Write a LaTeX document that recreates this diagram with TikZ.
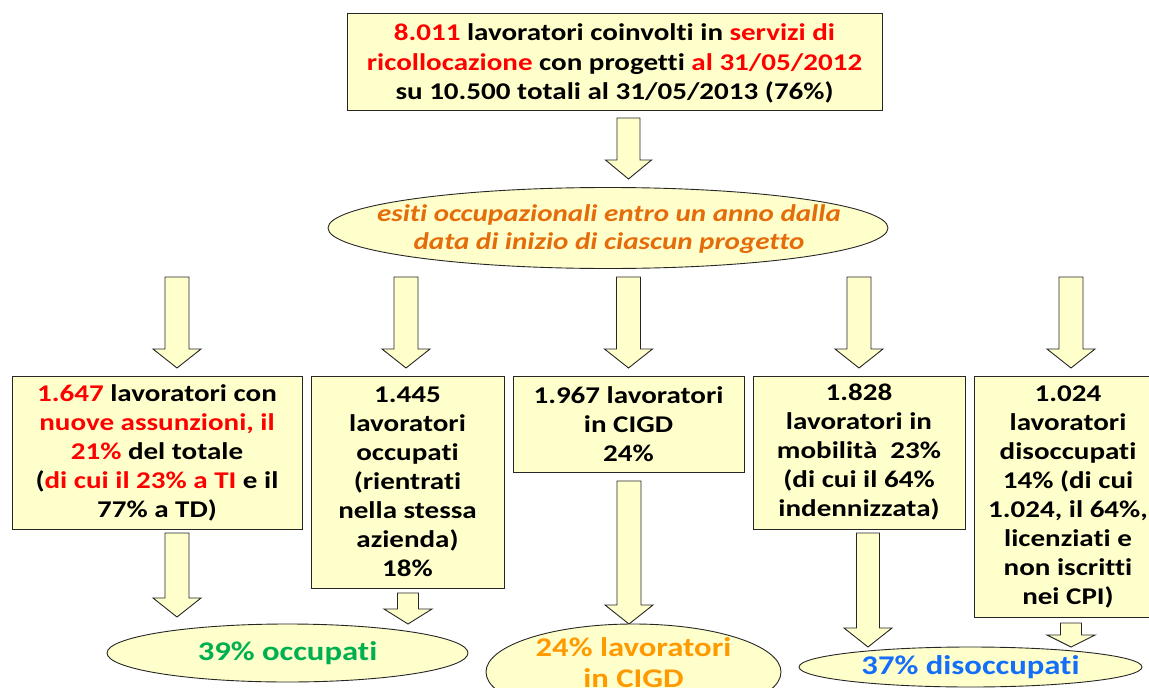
\documentclass[tikz,border=0pt]{standalone}
\usepackage{fontspec}
\setmainfont{Carlito}[FakeStretch=1.21, Ligatures=CommonOff]
\usetikzlibrary{shapes.geometric}
\definecolor{boxfill}{RGB}{255,255,204}
\definecolor{hired}{RGB}{255,0,0}
\definecolor{esorange}{RGB}{228,108,10}
\definecolor{cigorange}{RGB}{255,153,0}
\definecolor{occgreen}{RGB}{0,176,80}
\definecolor{disblue}{RGB}{20,110,250}
\newcommand\R[1]{\textcolor{hired}{#1}}
\newcommand\blockarr[6]{%
  \draw[barrow] ({#1-#5},#2) -- ({#1+#5},#2) -- ({#1+#5},#3) -- ({#1+#6},#3)
    -- (#1,#4) -- ({#1-#6},#3) -- ({#1-#5},#3) -- cycle;}
\tikzset{
  txt/.style={font=\fontsize{24}{29}\selectfont\bfseries, align=center, inner sep=0pt},
  bigtxt/.style={txt, font=\fontsize{27}{32}\selectfont\bfseries},
  box/.style={txt, draw=black!85, line width=0.9pt, fill=boxfill, rectangle},
  ell/.style={draw=black!85, line width=0.9pt, fill=boxfill, ellipse, inner sep=0pt},
  barrow/.style={draw=black!85, line width=0.9pt, fill=boxfill, line join=miter},
}
\begin{document}
\begin{tikzpicture}[x=1pt,y=-1pt]
\useasboundingbox (0,0) rectangle (1149,688);
\clip (0,0) rectangle (1149,688);
% top box
\node[box, minimum width=535pt, minimum height=97pt] (top) at (614.5,61.5) {};
\node[txt, font=\fontsize{24}{29.5}\selectfont\bfseries] (toptxt) at (614.5,63.5)
  {\R{8.011} lavoratori coinvolti in \R{servizi di}\\\R{ricollocazione} con progetti \R{al 31/05/2012}\\su 10.500 totali al 31/05/2013 (76\%)};
\blockarr{628.5}{118}{160}{179}{11.5}{23}
% ellipse
\node[ell, minimum width=560pt, minimum height=81pt] (esiti) at (608,228) {};
\node[txt, font=\fontsize{24}{28}\selectfont\bfseries\itshape, text=esorange] (esititxt) at (609,229.5)
  {esiti occupazionali entro un anno dalla\\data di inizio di ciascun progetto};
% arrows to boxes
\blockarr{177}{277}{349}{368}{12}{24}
\blockarr{406}{277}{349}{368}{12}{24}
\blockarr{628.5}{277}{349}{368}{12}{24}
\blockarr{859}{277}{349}{368}{12}{24}
\blockarr{1071}{277}{349}{368}{12}{24}
% boxes
\node[box, minimum width=290pt, minimum height=153pt] (a) at (157,452.5)
  {\R{1.647} lavoratori con\\\R{nuove assunzioni, il}\\\R{21\%} del totale\\(\R{di cui il 23\% a TI} e il\\77\% a TD)};
\node[box, minimum width=193pt, minimum height=212pt] (b) at (407.5,482)
  {1.445\\lavoratori\\occupati\\(rientrati\\nella stessa\\azienda)\\18\%};
\node[box, minimum width=231pt, minimum height=96pt] (c) at (628.5,424)
  {1.967 lavoratori\\in CIGD\\24\%};
\node[box, minimum width=212pt, minimum height=153pt] (d) at (859,452.5)
  {1.828\\lavoratori in\\mobilità~ 23\%\\(di cui il 64\%\\indennizzata)};
\node[box, minimum width=188pt, minimum height=241pt] (e) at (1068,496.5)
  {1.024\\lavoratori\\disoccupati\\14\% (di cui\\1.024, il 64\%,\\licenziati e\\non iscritti\\nei CPI)};
% lower arrows
\blockarr{177}{533}{598}{617}{12}{24}
\blockarr{408}{593}{609}{624}{10.5}{24}
\blockarr{629}{481}{605}{624}{12}{24}
\blockarr{868}{533}{628}{647}{11.5}{24}
\blockarr{1071}{623}{635}{647}{10.5}{24}
% result ellipses
\node[ell, minimum width=361pt, minimum height=58pt] (occ) at (287.5,653) {};
\node[bigtxt, text=occgreen] (occtxt) at (occ.center) {39\% occupati};
\node[ell, minimum width=295pt, minimum height=96pt] (cig) at (633.5,672) {};
\node[bigtxt, font=\fontsize{27}{31}\selectfont\bfseries, text=cigorange] (cigtxt) at (633.5,663) {24\% lavoratori\\in CIGD};
\node[ell, minimum width=343pt, minimum height=40pt] (dis) at (970.5,667) {};
\node[bigtxt, text=disblue] (distxt) at (dis.center) {37\% disoccupati};
\end{tikzpicture}
\end{document}
